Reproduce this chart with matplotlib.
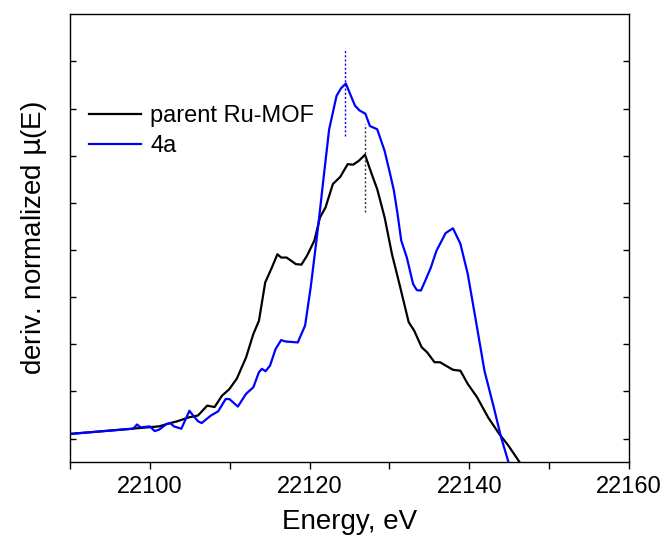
import matplotlib
matplotlib.use("Agg")
import matplotlib.pyplot as plt
from matplotlib.ticker import MultipleLocator

plt.rcParams['font.family'] = ['Liberation Sans', 'DejaVu Sans']

energy_parent = [22090.0, 22099.77, 22101.16, 22102.55, 22103.47, 22104.86, 22106.02, 22107.18,
                 22108.10, 22109.03, 22109.95, 22110.88, 22112.04, 22112.96, 22113.66, 22114.44,
                 22115.28, 22115.97, 22116.44, 22117.13, 22118.29, 22118.98, 22119.68, 22120.60,
                 22121.30, 22121.99, 22122.92, 22123.84, 22124.77, 22125.46, 22126.16, 22126.94,
                 22127.78, 22128.47, 22129.40, 22130.32, 22131.25, 22132.41, 22133.10, 22134.03,
                 22134.72, 22135.65, 22136.34, 22137.04, 22137.96, 22138.89, 22139.81, 22140.97,
                 22142.36, 22143.75, 22144.91, 22146.30, 22148.0]
deriv_parent = [0.10, 0.24, 0.26, 0.33, 0.37, 0.45, 0.49, 0.70,
                0.67, 0.91, 1.05, 1.27, 1.72, 2.22, 2.50, 3.31,
                3.63, 3.91, 3.84, 3.84, 3.70, 3.69, 3.88, 4.20,
                4.69, 4.90, 5.40, 5.55, 5.82, 5.81, 5.89, 6.02,
                5.61, 5.29, 4.69, 3.91, 3.28, 2.47, 2.29, 1.94,
                1.83, 1.62, 1.62, 1.55, 1.46, 1.44, 1.16, 0.88,
                0.45, 0.10, -0.15, -0.50, -0.90]

energy_4a = [22090.0, 22097.92, 22098.38, 22098.84, 22100.00, 22100.60, 22101.16, 22102.08,
             22102.55, 22103.01, 22103.94, 22104.95, 22105.42, 22106.02, 22106.48, 22107.64,
             22108.56, 22109.49, 22109.95, 22111.02, 22112.04, 22112.96, 22113.66, 22114.03,
             22114.49, 22115.05, 22115.74, 22116.44, 22116.99, 22118.52, 22119.44, 22120.14,
             22121.06, 22121.76, 22122.45, 22123.38, 22123.94, 22124.54, 22125.00, 22125.69,
             22126.25, 22126.99, 22127.55, 22128.47, 22129.40, 22130.09, 22130.56, 22131.02,
             22131.48, 22132.18, 22132.96, 22133.43, 22133.94, 22134.49, 22135.19, 22135.88,
             22137.04, 22137.96, 22138.89, 22139.81, 22140.97, 22141.90, 22143.06, 22143.98,
             22144.91, 22146.0]
deriv_4a = [0.10, 0.21, 0.30, 0.24, 0.26, 0.16, 0.19, 0.31,
            0.33, 0.26, 0.21, 0.59, 0.49, 0.37, 0.33, 0.49,
            0.58, 0.84, 0.84, 0.68, 0.95, 1.09, 1.41, 1.48,
            1.43, 1.55, 1.90, 2.09, 2.06, 2.04, 2.40, 3.21,
            4.48, 5.54, 6.56, 7.27, 7.43, 7.53, 7.34, 7.06,
            6.96, 6.89, 6.63, 6.56, 6.10, 5.61, 5.26, 4.76,
            4.20, 3.84, 3.28, 3.15, 3.14, 3.35, 3.63, 3.98,
            4.36, 4.46, 4.13, 3.49, 2.36, 1.44, 0.67, 0.03,
            -0.50, -1.00]

peak_4a_x = 22124.4
peak_4a_y = (6.42, 8.26)
peak_parent_x = 22126.9
peak_parent_y = (4.80, 6.67)

xticks_major = [22100, 22120, 22140, 22160]

fig = plt.figure(figsize=(6.67, 5.47), dpi=100)
ax = fig.add_axes([0.105, 0.155, 0.838, 0.819])

ax.plot(energy_parent, deriv_parent, color='black', lw=1.6, label='parent Ru-MOF')
ax.plot(energy_4a, deriv_4a, color='#0000ff', lw=1.6, label='4a')
ax.vlines(peak_4a_x, *peak_4a_y, colors='#0000ff', linestyles=(0, (1.5, 1.5)), lw=1.0)
ax.vlines(peak_parent_x, *peak_parent_y, colors='#333333', linestyles=(0, (1.5, 1.5)), lw=1.0)

ax.set_xlim(22090, 22160)
ax.set_ylim(-0.5, 9.0)
ax.set_xticks(xticks_major)
ax.xaxis.set_minor_locator(MultipleLocator(10))
ax.set_yticks(range(0, 9))
ax.set_yticklabels([])
ax.tick_params(axis='x', which='both', direction='out', length=5, width=1, labelsize=17, pad=5)
ax.tick_params(axis='y', which='both', direction='in', length=4, width=1, left=True, right=True)
for s in ax.spines.values():
    s.set_linewidth(1.0)

ax.set_xlabel('Energy, eV', fontsize=20, labelpad=8)
ax.set_ylabel('deriv. normalized $\\mathrm{\\mu}$(E)', fontsize=20, labelpad=12)

ax.legend(loc='upper left', bbox_to_anchor=(0.0, 0.84), frameon=False, fontsize=17,
          handlelength=2.2, handletextpad=0.4, labelspacing=0.35, borderaxespad=0.4)

fig.savefig('out.png', dpi=100)
